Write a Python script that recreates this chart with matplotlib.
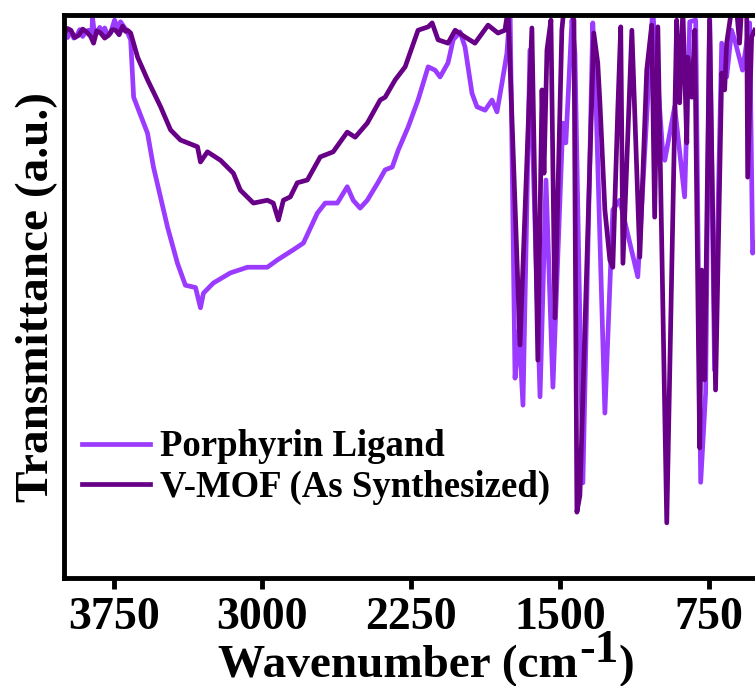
import matplotlib
matplotlib.use('Agg')
import matplotlib.pyplot as plt

# FTIR spectra (wavenumber in cm-1, transmittance in a.u.)
ligand_wn = [3997, 3982, 3966, 3951, 3936, 3921, 3906, 3891, 3876, 3861, 3856, 3846,
             3836, 3820, 3805, 3795, 3780, 3765, 3755, 3745, 3730, 3715, 3700, 3685,
             3664,
             3649, 3579, 3549, 3478, 3428, 3388, 3337, 3312, 3297, 3247, 3161, 3075,
             2975, 2924, 2844, 2793, 2723, 2683, 2622, 2572, 2542, 2507, 2471, 2416,
             2381, 2345, 2315, 2265, 2215, 2164, 2129, 2104, 2064, 2038, 2003, 1978,
             1943, 1918, 1877, 1842, 1817, 1792, 1767, 1751, 1726, 1706, 1686, 1651,
             1600, 1570, 1535, 1485, 1470, 1439, 1424, 1384, 1334, 1319, 1273, 1233,
             1198, 1107, 1032, 981, 971, 921, 871, 845, 815, 790, 765, 745,
             720, 684, 659, 634, 614, 579, 543, 528, 518]
ligand_t = [96.4, 96.0, 97.3, 95.9, 96.3, 97.4, 96.2, 97.0, 97.3, 96.0, 99.5, 96.4,
            96.8, 97.8, 96.5, 97.7, 96.4, 96.8, 98.0, 99.1, 97.6, 98.8, 98.0, 97.3,
            95.6,
            85.4, 79.0, 73.0, 62.3, 55.9, 52.0, 51.6, 48.0, 50.6, 52.4, 54.2, 55.2,
            55.2, 56.5, 58.3, 59.5, 64.8, 66.6, 66.6, 69.5, 67.1, 65.7, 67.1, 70.3,
            72.5, 73.0, 76.0, 80.1, 84.9, 90.8, 90.2, 89.0, 91.5, 95.6, 97.0, 94.3,
            86.1, 83.7, 83.1, 84.9, 82.8, 87.9, 93.2, 101, 35.5, 44.0, 30.7, 93.8,
            32.2, 70.7, 33.9, 80.8, 77.3, 99.1, 93.2, 16.9, 98.6, 86.1, 29.3, 65.4,
            67.1, 53.5, 101, 75.5, 74.2, 83.7, 67.7, 98.8, 99.1, 17.0, 32.9, 101,
            36.9, 95.0, 89.0, 97.3, 95.0, 90.2, 98.6, 57.7, 59.5]

mof_wn = [3997, 3982, 3966, 3946, 3926, 3906, 3886, 3866, 3851, 3835, 3815, 3795,
          3775, 3757, 3740, 3722, 3705, 3690, 3680, 3664, 3629,
          3579, 3513, 3463, 3413, 3327, 3312, 3277, 3211, 3146, 3111, 3045, 2975,
          2945, 2919, 2894, 2859, 2824, 2773, 2708, 2643, 2572, 2532, 2471, 2406,
          2381, 2330, 2280, 2245, 2215, 2164, 2144, 2114, 2064, 2028, 1978, 1928,
          1862, 1812, 1777, 1761, 1701, 1641, 1611, 1590, 1580, 1565, 1545, 1525,
          1490, 1480, 1449, 1429, 1414, 1399, 1329, 1309, 1298, 1273, 1248, 1233,
          1208, 1193, 1182, 1137, 1097, 1062, 1037, 1022, 1006, 961, 911, 896,
          880, 860, 855, 835, 820, 795, 785, 770, 745, 715, 684, 669,
          659, 634, 609, 594, 584, 558, 553, 533, 518]
mof_t = [96.8, 97.6, 97.3, 96.0, 96.4, 97.5, 97.0, 96.2, 95.0, 97.2, 96.8, 95.9,
         96.4, 97.4, 97.3, 96.5, 98.0, 97.1, 97.3, 96.8, 92.5,
         88.5, 83.7, 79.6, 77.8, 76.6, 73.9, 75.7, 74.2, 71.9, 68.9, 66.6, 67.1,
         66.6, 63.6, 67.1, 67.7, 70.2, 70.7, 74.8, 75.7, 79.2, 78.3, 80.8, 84.9,
         85.4, 88.5, 90.8, 94.3, 97.3, 97.9, 98.6, 95.6, 95.0, 97.3, 96.1, 95.0,
         98.2, 96.8, 97.3, 101, 41.4, 97.7, 38.7, 86.7, 71.9, 93.8, 99.1, 46.2,
         97.3, 101, 101, 99.1, 11.7, 14.7, 96.8, 91.5, 84.4, 65.4, 56.5, 55.2,
         83.1, 97.9, 55.9, 97.3, 57.0, 90.2, 98.2, 64.1, 97.9, 9.8, 99.1, 84.4,
         101, 77.3, 92.5, 85.4, 97.3, 23.1, 54.7, 35.2, 99.1, 33.4, 89.7, 86.7,
         95.0, 101, 101, 95.0, 101, 101, 71.2, 96.1, 97.3]

xticks = [3750, 3000, 2250, 1500, 750]

plt.rcParams['font.family'] = 'Liberation Serif'
plt.rcParams['font.weight'] = 'bold'
plt.rcParams['axes.labelweight'] = 'bold'

fig = plt.figure(figsize=(7.55, 6.86), dpi=100)
ax = fig.add_axes([0.0848, 0.1574, 0.9457, 0.8207])

ax.plot(ligand_wn, ligand_t, color='#9b3bff', lw=3.4, label='Porphyrin Ligand')
ax.plot(mof_wn, mof_t, color='#670087', lw=3.4, label='V-MOF (As Synthesized)')

ax.set_xlim(4000, 400)
ax.set_ylim(0, 100)
ax.set_xticks(xticks)
ax.set_yticks([])
ax.tick_params(axis='x', direction='out', length=8, width=3.5, labelsize=33, pad=6)
for s in ax.spines.values():
    s.set_linewidth(3.5)

ax.set_ylabel('Transmittance (a.u.)', fontsize=34, fontweight='bold', labelpad=4)

ax.legend(loc='center left', bbox_to_anchor=(0.025, 0.197), frameon=False,
          fontsize=26.5, handlelength=1.85, handletextpad=0.28, labelspacing=0.14,
          borderpad=0, borderaxespad=0)

# x label with a full size raised "-1"
t1 = fig.text(218 / 755, 9 / 686, 'Wavenumber (cm', fontsize=34, va='baseline', ha='left')
fig.canvas.draw()
bb = t1.get_window_extent()
t2 = fig.text(bb.x1 / 755 + 0.002, 24 / 686, '-1', fontsize=34, va='baseline', ha='left')
fig.canvas.draw()
bb2 = t2.get_window_extent()
fig.text(bb2.x1 / 755, 9 / 686, ')', fontsize=34, va='baseline', ha='left')

plt.savefig('out.png', dpi=100)
